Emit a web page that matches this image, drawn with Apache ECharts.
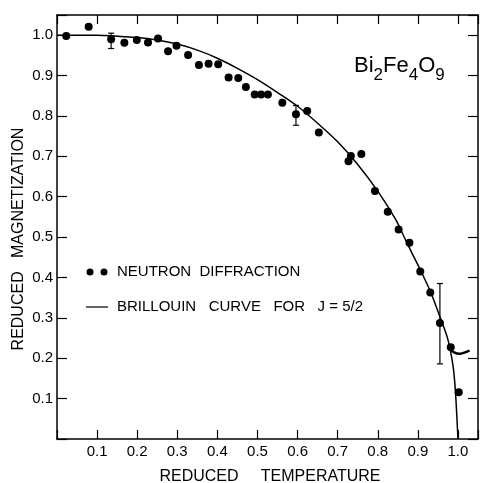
<!DOCTYPE html>
<html>
<head>
<meta charset="utf-8">
<script src="https://cdn.jsdelivr.net/npm/echarts@6/dist/echarts.min.js"></script>
<style>
  html, body { margin: 0; padding: 0; background: #fff; }
  #chart { width: 481px; height: 483px; }
</style>
</head>
<body>
<div id="chart"></div>
<script>
// neutron diffraction points (reduced temperature / reduced magnetization)
var obsTemp = [0.023, 0.079, 0.135, 0.168, 0.199, 0.227, 0.252, 0.277, 0.298, 0.327,
               0.354, 0.378, 0.402, 0.428, 0.452, 0.471, 0.493, 0.509, 0.526, 0.562,
               0.596, 0.624, 0.653, 0.727, 0.733, 0.759, 0.793, 0.825, 0.852, 0.879,
               0.906, 0.931, 0.955, 0.982, 1.002];
var obsMag = [0.998, 1.021, 0.990, 0.981, 0.988, 0.982, 0.992, 0.960, 0.974, 0.951,
              0.926, 0.929, 0.928, 0.895, 0.894, 0.872, 0.853, 0.853, 0.853, 0.833,
              0.804, 0.812, 0.759, 0.688, 0.701, 0.706, 0.614, 0.563, 0.519, 0.486,
              0.415, 0.363, 0.287, 0.227, 0.116];

// error bars: temperature, low, high
var errTemp = [0.135, 0.596, 0.955];
var errLow = [0.967, 0.777, 0.186];
var errHigh = [1.005, 0.826, 0.385];

// Brillouin curve J = 5/2
var curveTemp = [0, 0.1, 0.2, 0.25, 0.3, 0.35, 0.4, 0.45, 0.5, 0.55, 0.6, 0.65, 0.7,
                 0.75, 0.8, 0.845, 0.865, 0.885, 0.906, 0.931, 0.955, 0.975, 0.988, 0.994, 1.0];
var curveMag = [1.0, 1.0, 0.994, 0.988, 0.978, 0.963, 0.943, 0.918, 0.89, 0.858, 0.824,
                0.782, 0.736, 0.68, 0.614, 0.543, 0.502, 0.461, 0.419, 0.366, 0.303,
                0.246, 0.179, 0.113, 0.0];

// little hook drawn near T/Tc = 1
var hookTemp = [0.975, 0.988, 1.004, 1.016, 1.029];
var hookMag = [0.227, 0.216, 0.211, 0.214, 0.219];

var tickLabels = ['0.1', '0.2', '0.3', '0.4', '0.5', '0.6', '0.7', '0.8', '0.9', '1.0'];

function zip(a, b) {
  var out = [];
  for (var i = 0; i < a.length; i++) out.push([a[i], b[i]]);
  return out;
}
function tickFmt(v) {
  var k = Math.round(v * 10);
  if (Math.abs(v * 10 - k) > 1e-6) return '';
  return tickLabels[k - 1] || '';
}

var font = 'Liberation Sans';
var myChart = echarts.init(document.getElementById('chart'));

var option = {
  animation: false,
  backgroundColor: '#fff',
  grid: { left: 57, top: 15, right: -4, bottom: 44 },
  xAxis: [{
    type: 'value', min: 0, max: 1.05, interval: 0.1,
    axisLine: { onZero: false, lineStyle: { color: '#000', width: 1.5 } },
    axisTick: { length: -9, lineStyle: { color: '#000', width: 1.2 } },
    axisLabel: { formatter: tickFmt, color: '#000', fontFamily: font, fontSize: 15, margin: 5 },
    splitLine: { show: false }
  }, {
    type: 'value', position: 'top', min: 0, max: 1.05, interval: 0.1,
    axisLine: { onZero: false, lineStyle: { color: '#000', width: 1.5 } },
    axisTick: { length: -9, lineStyle: { color: '#000', width: 1.2 } },
    axisLabel: { show: false },
    splitLine: { show: false }
  }],
  yAxis: [{
    type: 'value', min: 0, max: 1.05, interval: 0.1,
    axisLine: { show: true, onZero: false, lineStyle: { color: '#000', width: 1.5 } },
    axisTick: { show: true, length: -10, lineStyle: { color: '#000', width: 1.2 } },
    axisLabel: { formatter: tickFmt, color: '#000', fontFamily: font, fontSize: 15, margin: 4 },
    splitLine: { show: false }
  }, {
    type: 'value', position: 'right', min: 0, max: 1.05, interval: 0.1,
    axisLine: { show: true, onZero: false, lineStyle: { color: '#000', width: 1.5 } },
    axisTick: { show: true, length: -10, lineStyle: { color: '#000', width: 1.2 } },
    axisLabel: { show: false },
    splitLine: { show: false }
  }],
  series: [{
    name: 'Brillouin',
    type: 'line',
    data: zip(curveTemp, curveMag),
    smooth: 0.3,
    showSymbol: false,
    lineStyle: { color: '#000', width: 1.5 },
    z: 2
  }, {
    name: 'hook',
    type: 'line',
    data: zip(hookTemp, hookMag),
    smooth: 0.5,
    showSymbol: false,
    lineStyle: { color: '#000', width: 2.5 },
    z: 2
  }, {
    name: 'Neutron diffraction',
    type: 'scatter',
    data: zip(obsTemp, obsMag),
    symbol: 'circle',
    symbolSize: 8,
    itemStyle: { color: '#000', opacity: 1 },
    z: 3
  }, {
    name: 'errors',
    type: 'custom',
    data: errTemp.map(function (t, i) { return [t, errLow[i], errHigh[i]]; }),
    renderItem: function (params, api) {
      var top = api.coord([api.value(0), api.value(2)]);
      var bot = api.coord([api.value(0), api.value(1)]);
      var st = { stroke: '#000', lineWidth: 1.2 };
      return {
        type: 'group',
        children: [
          { type: 'line', shape: { x1: top[0], y1: top[1], x2: bot[0], y2: bot[1] }, style: st },
          { type: 'line', shape: { x1: top[0] - 3, y1: top[1], x2: top[0] + 3, y2: top[1] }, style: st },
          { type: 'line', shape: { x1: bot[0] - 3, y1: bot[1], x2: bot[0] + 3, y2: bot[1] }, style: st }
        ]
      };
    },
    z: 3
  }],
  graphic: [
    // compound label
    {
      type: 'text', left: 354, top: 55,
      style: {
        text: 'Bi{s|2}Fe{s|4}O{s|9}',
        fill: '#000', font: '22px "Liberation Sans"',
        rich: { s: { fontSize: 17, fontFamily: font, padding: [18, 0, 0, 0] } }
      }
    },
    // legend
    { type: 'circle', shape: { cx: 90, cy: 272, r: 3.5 }, style: { fill: '#000' } },
    { type: 'circle', shape: { cx: 104, cy: 272, r: 3.5 }, style: { fill: '#000' } },
    {
      type: 'text', left: 117, top: 264,
      style: { text: 'NEUTRON  DIFFRACTION', fill: '#000', font: '15px "Liberation Sans"' }
    },
    { type: 'line', shape: { x1: 86, y1: 307, x2: 108, y2: 307 }, style: { stroke: '#000', lineWidth: 1.2 } },
    {
      type: 'text', left: 117, top: 299,
      style: { text: 'BRILLOUIN   CURVE   FOR   J = 5/2', fill: '#000', font: '15px "Liberation Sans"' }
    },
    // axis titles
    {
      type: 'text', x: 270, y: 477,
      style: { text: 'REDUCED     TEMPERATURE', fill: '#000', font: '16px "Liberation Sans"', align: 'center', verticalAlign: 'middle' }
    },
    {
      type: 'text', x: 19, y: 239, rotation: Math.PI / 2,
      style: { text: 'REDUCED   MAGNETIZATION', fill: '#000', font: '16px "Liberation Sans"', align: 'center', verticalAlign: 'middle' }
    }
  ]
};
myChart.setOption(option);
window.onresize = function () { myChart.resize(); };
</script>
</body>
</html>
